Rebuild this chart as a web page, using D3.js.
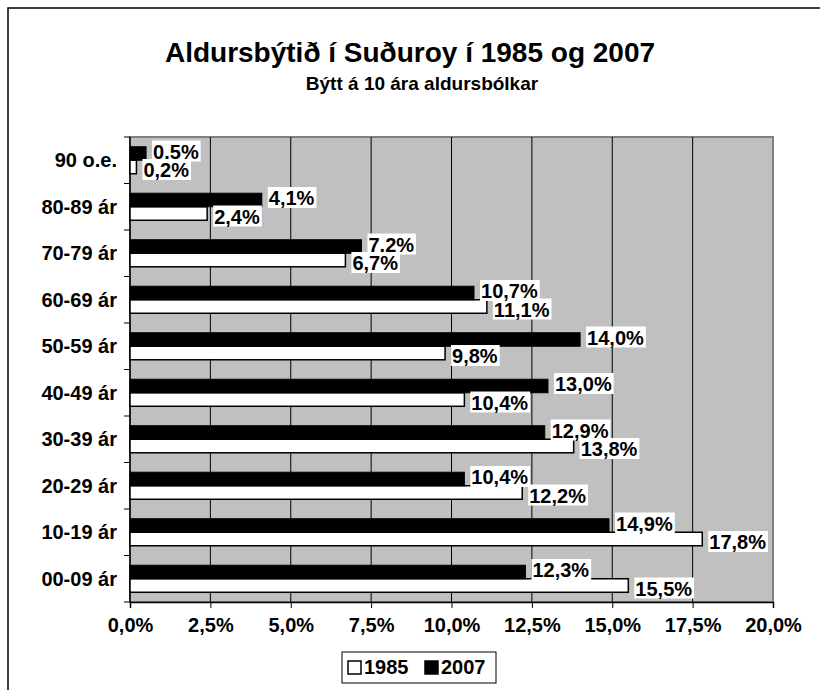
<!DOCTYPE html>
<html>
<head>
<meta charset="utf-8">
<script src="https://cdn.jsdelivr.net/npm/d3@7"></script>
<style>
  body { margin: 0; background: #fff; }
  text { font-family: Arial, "Liberation Sans", Helvetica, sans-serif; font-weight: bold; fill: #000; }
</style>
</head>
<body>
<script>
// age groups, top to bottom as in the chart
var ageGroups = ["90 o.e.", "80-89 ár", "70-79 ár", "60-69 ár", "50-59 ár", "40-49 ár", "30-39 ár", "20-29 ár", "10-19 ár", "00-09 ár"];
var series = ["2007", "1985"];
var values1985 = [0.2, 2.4, 6.7, 11.1, 9.8, 10.4, 13.8, 12.2, 17.8, 15.5];
var values2007 = [0.5, 4.1, 7.2, 10.7, 14.0, 13.0, 12.9, 10.4, 14.9, 12.3];
var labels1985 = ["0,2%", "2,4%", "6,7%", "11,1%", "9,8%", "10,4%", "13,8%", "12,2%", "17,8%", "15,5%"];
var labels2007 = ["0.5%", "4,1%", "7.2%", "10,7%", "14,0%", "13,0%", "12,9%", "10,4%", "14,9%", "12,3%"];
var xTicks = [0, 2.5, 5, 7.5, 10, 12.5, 15, 17.5, 20];
var xTickLabels = ["0,0%", "2,5%", "5,0%", "7,5%", "10,0%", "12,5%", "15,0%", "17,5%", "20,0%"];

window.onload = function(){
    var w = 820, h = 690;
    var plot = {left: 130, right: 773, top: 137, bottom: 602};
    var fs = "20px"; //label font size

    var svg = d3.select("body").append("svg")
        .attr("width", w)
        .attr("height", h);

    // outer chart frame (right and bottom run off the picture)
    svg.append("rect")
        .attr("x", 8).attr("y", 8)
        .attr("width", 840).attr("height", 720)
        .attr("fill", "#fff")
        .attr("stroke", "#000")
        .attr("stroke-width", 1.5);

    // titles
    svg.append("text")
        .attr("x", 410).attr("y", 62)
        .attr("text-anchor", "middle")
        .style("font-size", "28px")
        .text("Aldursbýtið í Suðuroy í 1985 og 2007");
    svg.append("text")
        .attr("x", 422).attr("y", 90)
        .attr("text-anchor", "middle")
        .style("font-size", "19px")
        .text("Býtt á 10 ára aldursbólkar");

    // scales
    var x = d3.scaleLinear()
        .domain([0, 20])
        .range([plot.left, plot.right]);

    var y0 = d3.scaleBand()
        .domain(ageGroups)
        .range([plot.top, plot.bottom]);

    var y1 = d3.scaleBand()
        .domain(series)
        .range([0, y0.bandwidth()])
        .paddingInner(0)
        .paddingOuter(0.72);

    // plot background
    svg.append("rect")
        .attr("x", plot.left).attr("y", plot.top)
        .attr("width", plot.right - plot.left)
        .attr("height", plot.bottom - plot.top)
        .attr("fill", "#c0c0c0")
        .attr("stroke", "#808080")
        .attr("stroke-width", 2);

    // vertical gridlines
    svg.selectAll(".grid")
        .data(xTicks.slice(1, -1))
        .enter()
        .append("line")
        .attr("class", "grid")
        .attr("x1", function(d){ return x(d); })
        .attr("x2", function(d){ return x(d); })
        .attr("y1", plot.top)
        .attr("y2", plot.bottom)
        .attr("stroke", "#000")
        .attr("stroke-width", 1);

    // x axis
    var xAxis = d3.axisBottom(x)
        .tickValues(xTicks)
        .tickSize(6)
        .tickPadding(10)
        .tickFormat(function(d, i){ return xTickLabels[i]; });
    var gx = svg.append("g")
        .attr("class", "axis")
        .attr("transform", "translate(0," + plot.bottom + ")")
        .call(xAxis);
    gx.select(".domain").attr("stroke", "#000").attr("stroke-width", 1.5);
    gx.selectAll("line").attr("stroke", "#000");
    gx.selectAll("text")
        .style("font-size", fs)
        .style("font-family", "Arial, 'Liberation Sans', sans-serif")
        .attr("fill", "#000");

    // y axis: ticks between categories
    var gy = svg.append("g").attr("class", "yaxis");
    gy.append("line")
        .attr("x1", plot.left).attr("x2", plot.left)
        .attr("y1", plot.top).attr("y2", plot.bottom)
        .attr("stroke", "#000").attr("stroke-width", 1.5);
    var bounds = ageGroups.map(function(d){ return y0(d); }).concat([plot.bottom]);
    gy.selectAll(".ytick")
        .data(bounds)
        .enter()
        .append("line")
        .attr("x1", plot.left - 6).attr("x2", plot.left)
        .attr("y1", function(d){ return d; })
        .attr("y2", function(d){ return d; })
        .attr("stroke", "#000");
    gy.selectAll(".ylabel")
        .data(ageGroups)
        .enter()
        .append("text")
        .attr("class", "ylabel")
        .attr("x", 117)
        .attr("y", function(d){ return y0(d) + y0.bandwidth() / 2; })
        .attr("dy", "0.36em")
        .attr("text-anchor", "end")
        .style("font-size", fs)
        .text(function(d){ return d; });

    // bars
    var rows = ageGroups.map(function(g, i){
        return {group: g, v1985: values1985[i], v2007: values2007[i], l1985: labels1985[i], l2007: labels2007[i]};
    });

    svg.selectAll(".bar1985")
        .data(rows)
        .enter()
        .append("rect")
        .attr("class", "bar1985")
        .attr("x", x(0))
        .attr("y", function(d){ return y0(d.group) + y1("1985"); })
        .attr("width", function(d){ return x(d.v1985) - x(0); })
        .attr("height", y1.bandwidth())
        .attr("fill", "#fff")
        .attr("stroke", "#000")
        .attr("stroke-width", 1.5);

    svg.selectAll(".bar2007")
        .data(rows)
        .enter()
        .append("rect")
        .attr("class", "bar2007")
        .attr("x", x(0))
        .attr("y", function(d){ return y0(d.group) + y1("2007"); })
        .attr("width", function(d){ return x(d.v2007) - x(0); })
        .attr("height", y1.bandwidth())
        .attr("fill", "#000")
        .attr("stroke", "#000")
        .attr("stroke-width", 1);

    // value labels with white boxes; 2007 drawn last so it sits on top
    function addLabels(key, valKey, labKey, shift){
        var g = svg.selectAll(".lab" + key)
            .data(rows)
            .enter()
            .append("g")
            .attr("class", "lab" + key)
            .attr("transform", function(d){
                var cy = y0(d.group) + y1(key) + y1.bandwidth() / 2 + shift;
                return "translate(" + (x(d[valKey]) + 6) + "," + cy + ")";
            });
        var t = g.append("text")
            .attr("x", 1)
            .attr("dy", "0.36em")
            .style("font-size", fs)
            .text(function(d){ return d[labKey]; });
        g.insert("rect", "text")
            .attr("x", 0)
            .attr("y", -11)
            .attr("height", 21)
            .attr("width", function(d, i){ return t.nodes()[i].getComputedTextLength() + 3; })
            .attr("fill", "#fff");
    }
    addLabels("1985", "v1985", "l1985", 3);
    addLabels("2007", "v2007", "l2007", -2);

    // legend
    var legend = svg.append("g").attr("class", "legend");
    legend.append("rect")
        .attr("x", 342).attr("y", 652)
        .attr("width", 154).attr("height", 31)
        .attr("fill", "#fff")
        .attr("stroke", "#000")
        .attr("stroke-width", 1);
    var items = legend.selectAll(".item")
        .data(["1985", "2007"])
        .enter()
        .append("g")
        .attr("class", "item")
        .attr("transform", function(d, i){ return "translate(" + (348 + i * 77) + ",667)"; });
    items.append("rect")
        .attr("x", 0).attr("y", -6)
        .attr("width", 13).attr("height", 13)
        .attr("fill", function(d){ return d === "1985" ? "#fff" : "#000"; })
        .attr("stroke", "#000")
        .attr("stroke-width", 1.5);
    items.append("text")
        .attr("x", 16)
        .attr("dy", "0.36em")
        .style("font-size", fs)
        .text(function(d){ return d; });
};
</script>
</body>
</html>
